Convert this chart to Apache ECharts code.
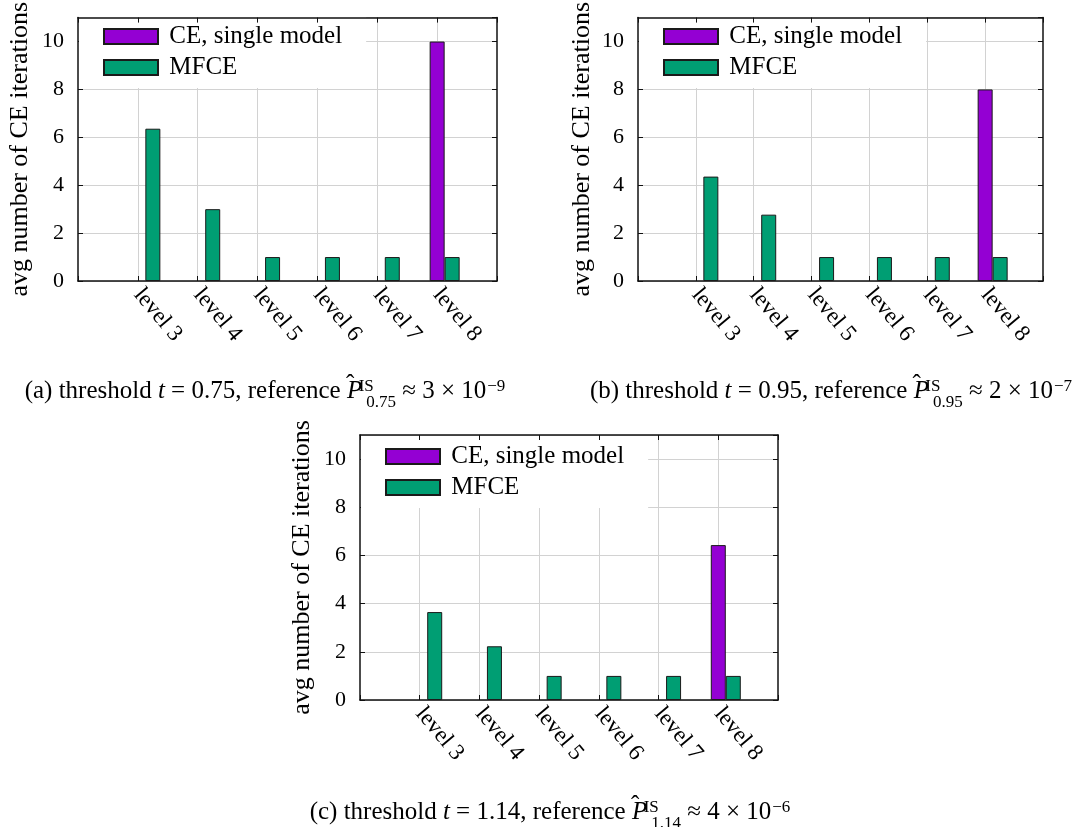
<!DOCTYPE html>
<html>
<head>
<meta charset="utf-8">
<script src="https://cdn.jsdelivr.net/npm/echarts@6/dist/echarts.min.js"></script>
<style>
html, body { margin: 0; padding: 0; background: #fff; }
#chart { width: 1079px; height: 827px; }
</style>
</head>
<body>
<div id="chart"></div>
<script>
var levels = ['level 3', 'level 4', 'level 5', 'level 6', 'level 7', 'level 8'];
var seriesNames = ['CE, single model', 'MFCE'];
var yTicks = [0, 2, 4, 6, 8, 10];
var yMax = 11;

// (a) t = 0.75
var ceA = [null, null, null, null, null, 10];
var mfceA = [6.36, 3.0, 1, 1, 1, 1];
// (b) t = 0.95
var ceB = [null, null, null, null, null, 8];
var mfceB = [4.36, 2.77, 1, 1, 1, 1];
// (c) t = 1.14
var ceC = [null, null, null, null, null, 6.43];
var mfceC = [3.65, 2.23, 1, 1, 1, 1];

var captions = [
	'(a) threshold {it|t} = 0.75, reference {hat|\u00a0\u02c6}{it|P}{sup|IS}{sub|0.75} \u2248 3 \u00d7 10{exp|\u22129}',
	'(b) threshold {it|t} = 0.95, reference {hat|\u00a0\u02c6}{it|P}{sup|IS}{sub|0.95} \u2248 2 \u00d7 10{exp|\u22127}',
	'(c) threshold {it|t} = 1.14, reference {hat|\u00a0\u02c6}{it|P}{sup|IS}{sub|1.14} \u2248 4 \u00d7 10{exp|\u22126}'
];

var FONT = '"Liberation Serif", "DejaVu Serif", serif';
var FRAME = '#111';
var GRIDC = '#d2d2d2';
var COLORS = ['#9400d3', '#009e73'];

// plot boxes, in pixels
var boxes = [
	{ left: 78, top: 15, width: 419, height: 266, nameGap: 45, capX: 265, capY: 371 },
	{ left: 638, top: 15, width: 405, height: 266, nameGap: 43, capX: 831, capY: 371 },
	{ left: 360, top: 435, width: 418, height: 265, nameGap: 45, capX: 550, capY: 792 }
];
var panelData = [[ceA, mfceA], [ceB, mfceB], [ceC, mfceC]];

var cats = [''].concat(levels, [' ']);

function pad(arr) {
	return [null].concat(arr, [null]);
}

var option = {
	animation: false,
	backgroundColor: '#fff',
	grid: [],
	xAxis: [],
	yAxis: [],
	legend: [],
	title: [],
	series: []
};

boxes.forEach(function (b, i) {
	option.grid.push({ left: b.left, top: b.top, width: b.width, height: b.height, containLabel: false });

	option.xAxis.push({
		gridIndex: i,
		type: 'category',
		data: cats,
		boundaryGap: false,
		z: 1,
		axisLine: { onZero: false, lineStyle: { color: FRAME, width: 1.5 } },
		axisTick: { inside: true, length: 5, interval: 0, lineStyle: { color: FRAME } },
		axisLabel: {
			interval: 0,
			rotate: -50,
			margin: 10,
			align: 'left',
			verticalAlign: 'middle',
			fontFamily: FONT,
			fontSize: 23,
			color: '#000'
		},
		splitLine: {
			show: true,
			interval: function (idx) {
				return idx > 0 && idx < cats.length - 1;
			},
			lineStyle: { color: GRIDC, width: 1 }
		}
	});
	option.xAxis.push({
		gridIndex: i,
		type: 'category',
		data: cats,
		boundaryGap: false,
		position: 'top',
		z: 6,
		axisLine: { onZero: false, lineStyle: { color: FRAME, width: 1.5 } },
		axisTick: { inside: true, length: 5, interval: 0, lineStyle: { color: FRAME } },
		axisLabel: { show: false },
		splitLine: { show: false }
	});

	option.yAxis.push({
		gridIndex: i,
		type: 'value',
		min: yTicks[0],
		max: yMax,
		interval: yTicks[1] - yTicks[0],
		z: 0,
		name: 'avg number of CE iterations',
		nameLocation: 'middle',
		nameGap: b.nameGap,
		nameTextStyle: { fontFamily: FONT, fontSize: 26, color: '#000' },
		axisLine: { show: true, onZero: false, lineStyle: { color: FRAME, width: 1.5 } },
		axisTick: { show: true, inside: true, length: 5, lineStyle: { color: FRAME } },
		axisLabel: { showMaxLabel: false, margin: 14, fontFamily: FONT, fontSize: 22, color: '#000' },
		splitLine: { show: true, lineStyle: { color: GRIDC, width: 1 } }
	});
	option.yAxis.push({
		gridIndex: i,
		type: 'value',
		min: yTicks[0],
		max: yMax,
		interval: yTicks[1] - yTicks[0],
		position: 'right',
		z: 6,
		axisLine: { show: true, onZero: false, lineStyle: { color: FRAME, width: 1.5 } },
		axisTick: { show: true, inside: true, length: 5, lineStyle: { color: FRAME } },
		axisLabel: { show: false },
		splitLine: { show: false }
	});

	option.legend.push({
		orient: 'vertical',
		left: b.left + 1,
		top: b.top + 1,
		padding: [8, 24, 8, 24],
		itemWidth: 54,
		itemHeight: 15,
		itemGap: 6,
		icon: 'rect',
		selectedMode: false,
		backgroundColor: '#fff',
		data: seriesNames,
		formatter: ' {name}',
		textStyle: { fontFamily: FONT, fontSize: 25, color: '#000' }
	});

	option.title.push({
		text: captions[i],
		left: b.capX,
		top: b.capY,
		textAlign: 'center',
		padding: 0,
		textStyle: {
			fontFamily: FONT,
			fontSize: 25,
			fontWeight: 'normal',
			color: '#000',
			lineHeight: 40,
			rich: {
				it: { fontFamily: FONT, fontSize: 25, fontStyle: 'italic', color: '#000' },
				// hat takes no width, drawn over the following P
				hat: { fontFamily: FONT, fontSize: 25, height: 25, width: 0.01, verticalAlign: 'top', padding: [2, 0, 0, 0], color: '#000' },
				sup: { fontFamily: FONT, fontSize: 17, height: 17, width: 0.01, verticalAlign: 'top', padding: [7.5, 0, 0, 4], color: '#000' },
				exp: { fontFamily: FONT, fontSize: 17, height: 17, verticalAlign: 'top', padding: [7.5, 0, 0, 1], color: '#000' },
				sub: { fontFamily: FONT, fontSize: 17, height: 17, verticalAlign: 'bottom', color: '#000' }
			}
		}
	});

	// empty series keeps a slot left of the CE bar so CE sits on the tick
	option.series.push({
		type: 'bar',
		name: 'slot',
		xAxisIndex: 2 * i,
		yAxisIndex: 2 * i,
		data: [],
		barWidth: 15,
		barGap: '0%'
	});
	panelData[i].forEach(function (vals, k) {
		option.series.push({
			type: 'bar',
			name: seriesNames[k],
			xAxisIndex: 2 * i,
			yAxisIndex: 2 * i,
			data: pad(vals),
			barWidth: 15,
			barGap: '0%',
			itemStyle: { color: COLORS[k], borderColor: '#1a1a1a', borderWidth: 1 }
		});
	});
});

var chart = echarts.init(document.getElementById('chart'), null, { renderer: 'canvas' });
chart.setOption(option);
</script>
</body>
</html>
